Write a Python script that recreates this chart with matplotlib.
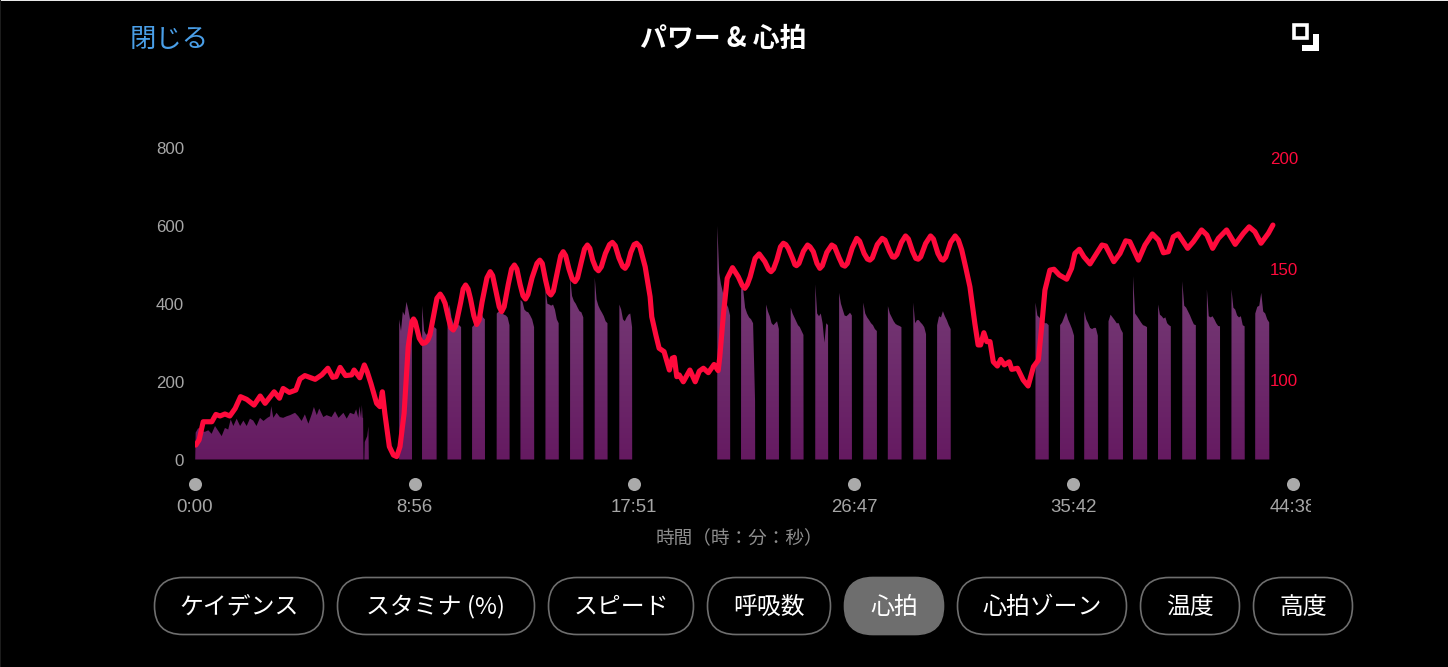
#!/usr/bin/python

import numpy as np
import matplotlib
matplotlib.use('Agg')
import matplotlib.pyplot as plt
from matplotlib.colors import LinearSegmentedColormap
from matplotlib.patches import FancyBboxPatch, Rectangle, Polygon
from matplotlib.transforms import Bbox, blended_transform_factory

JP = ['Noto Sans CJK JP', 'DejaVu Sans']
NUM = ['Liberation Sans', 'DejaVu Sans']

W, H = 1448, 667

time_ticks = [0, 536, 1071, 1607, 2142, 2678]
time_labels = ['0:00', '8:56', '17:51', '26:47', '35:42', '44:38']
power_ticks = [0, 200, 400, 600, 800]
bpm_ticks = [100, 150, 200]
buttons = ['ケイデンス', 'スタミナ (%)', 'スピード', '呼吸数', '心拍', '心拍ゾーン', '温度', '高度']

# heart rate (seconds, bpm)
hr_time = [2, 10, 20, 41, 51, 61, 73, 85, 98, 111, 126, 144, 159, 171, 193, 206, 215, 230, 246, 256,
           268, 293, 309, 324, 336, 344, 354, 367, 382, 388, 402, 413, 420, 429, 443, 451, 457, 463,
           474, 484, 492, 500, 510, 520, 529, 533, 537, 547, 555, 562, 568, 573, 582, 590, 598, 604,
           610, 618, 624, 630, 636, 648, 654, 660, 666, 672, 680, 687, 693, 700, 712, 720, 726, 734,
           742, 748, 754, 764, 772, 779, 785, 793, 800, 806, 812, 822, 834, 841, 847, 855, 862, 868,
           874, 884, 892, 898, 904, 912, 920, 927, 933, 942, 950, 957, 963, 970, 978, 984, 991, 1001,
           1011, 1018, 1025, 1034, 1043, 1049, 1055, 1063, 1071, 1077, 1085, 1098, 1110, 1114, 1124,
           1132, 1144, 1157, 1164, 1169, 1175, 1181, 1191, 1207, 1220, 1230, 1240, 1252, 1266, 1276,
           1280, 1289, 1298, 1311, 1325, 1335, 1341, 1347, 1354, 1366, 1376, 1390, 1399, 1405, 1411,
           1419, 1428, 1435, 1441, 1447, 1458, 1463, 1467, 1473, 1484, 1494, 1500, 1508, 1517, 1524,
           1530, 1541, 1553, 1560, 1571, 1579, 1585, 1591, 1603, 1614, 1621, 1632, 1640, 1646, 1652,
           1664, 1676, 1683, 1694, 1701, 1706, 1712, 1723, 1733, 1740, 1750, 1758, 1764, 1770, 1782,
           1794, 1801, 1812, 1820, 1825, 1831, 1843, 1854, 1862, 1870, 1880, 1890, 1902, 1910, 1916,
           1924, 1931, 1939, 1947, 1957, 1965, 1974, 1986, 1992, 2006, 2020, 2032, 2045, 2057, 2065,
           2073, 2085, 2095, 2108, 2126, 2138, 2146, 2157, 2168, 2183, 2199, 2212, 2221, 2241, 2256,
           2270, 2280, 2301, 2317, 2335, 2350, 2362, 2374, 2386, 2398, 2421, 2435, 2455, 2468, 2482,
           2496, 2516, 2537, 2557, 2571, 2585, 2600, 2618, 2629]
hr_bpm = [70.7, 73, 81.2, 81.2, 84.5, 83.8, 84.7, 83.8, 87.2, 92.5, 91.3, 88.7, 92.8, 89.5, 94.7, 91.8,
          96.2, 94.4, 95.5, 100.5, 102, 100.3, 102.3, 105.3, 101.2, 101.5, 105.7, 102, 102.3, 104.5,
          101, 106.8, 103.7, 98.5, 89.5, 88, 94.7, 85, 70, 66.2, 65.5, 70, 85, 115, 126.3, 127.5, 126.3,
          118.8, 116.5, 116.8, 118, 120.3, 129, 136.8, 138.7, 137, 134.5, 128, 123.5, 122.5, 124.5, 135,
          141, 142.8, 141, 136.5, 129, 125, 127, 135, 146, 148.8, 147, 140, 133, 130.8, 133, 143, 150,
          151.8, 150, 143, 138, 136.5, 138.5, 146, 152.5, 154, 152.5, 145, 139.5, 138.3, 140, 149, 156,
          157.8, 156, 150, 145.5, 144.3, 146, 153, 159, 160.8, 159.3, 154, 150.3, 149.2, 151, 157, 161,
          162, 160.5, 155, 151.2, 150.3, 152, 157.5, 161, 161.6, 160, 151, 137.5, 128.5, 120.3, 114.3,
          112.8, 104.5, 109.8, 110.2, 101.5, 102.3, 99.2, 104.5, 99.2, 104, 105.3, 103.3, 107, 104.2,
          110.5, 130, 145.8, 150.6, 146.5, 142.5, 141.3, 143, 146.5, 154.8, 156.8, 153.3, 149.8, 148.8,
          150, 154, 160, 161.6, 161, 159.3, 154.5, 152, 151.5, 152.5, 158, 160.8, 160, 157.8, 152.5,
          150.3, 151.5, 157.5, 160.8, 160, 155, 151.8, 151.3, 152.5, 159.5, 163.8, 162.5, 157, 154.5,
          154, 155, 161, 163.8, 163, 158, 155.5, 155.3, 156.5, 162, 164.9, 163.5, 158, 154.8, 154.4,
          155.5, 161.5, 164.9, 163.5, 157, 154.3, 154, 155.3, 162, 164.9, 163, 158.6, 150.5, 142, 125.5,
          115.8, 115.8, 121.3, 117.3, 117.3, 108.2, 106.3, 109.3, 106.8, 108.2, 104.8, 105.3, 100, 97.3,
          106, 109, 124, 140.5, 149.5, 149.9, 147.3, 145.4, 150.3, 157, 158.9, 155.5, 152.3, 157, 160.8,
          160.4, 153.3, 157, 162.7, 162.3, 154, 160.8, 165.8, 163, 157.3, 157.8, 164.5, 165.8, 159.3,
          162.3, 167.6, 165.3, 159.3, 163.8, 167.6, 161.1, 166.1, 169, 166.8, 161.6, 166.1, 169.8]

# warm up power, before the intervals
warmup_time = [1.6, 8, 16, 24, 32.5, 40.6, 48.8, 57, 65, 73, 81, 87, 93.5, 101.6, 110, 118, 126, 134, 142,
               150, 158.5, 167, 176.5, 183, 186, 191, 199, 207, 215, 223.6, 232, 244, 252, 260, 268,
               276.5, 284.6, 290, 297, 303, 313, 321, 333, 341.5, 350, 362, 370, 378, 388, 393, 398.4,
               401, 405, 407, 409, 410, 411, 413, 414, 420, 423, 424]
warmup_power = [69, 81, 73, 71, 75, 66, 86, 73, 60, 81, 77, 103, 86, 105, 86, 100, 86, 105, 100, 86, 107,
                99, 107, 111, 137, 107, 120, 109, 107, 111, 114, 120, 111, 99, 116, 92, 116, 135, 114,
                131, 109, 114, 109, 124, 107, 120, 105, 120, 116, 129, 107, 137, 107, 140, 107, 107, 0,
                0, 45, 60, 85, 0]

# one hard effort each
burst_start = [498, 554, 616, 676, 736, 794, 855, 915, 975, 1035,
               1274, 1332, 1393, 1453, 1513, 1571, 1630, 1690, 1752, 1810,
               2050, 2110, 2169, 2228, 2288, 2349, 2408, 2468, 2528, 2586]
burst_end = [529, 589, 649, 707, 767, 827, 887, 947, 1006, 1066,
             1305, 1366, 1424, 1484, 1544, 1602, 1663, 1723, 1783, 1843,
             2082, 2144, 2202, 2263, 2322, 2380, 2441, 2500, 2560, 2620]
burst_power = [
    [360, 330, 380, 370, 405, 385, 360, 340],
    [395, 330, 320, 325, 330, 335, 340, 335],
    [350, 398, 365, 350, 345, 345, 345, 340],
    [340, 345, 350, 355, 365, 378, 365, 360],
    [375, 380, 378, 375, 372, 370, 365, 345],
    [410, 405, 385, 380, 378, 370, 360, 340],
    [437, 400, 398, 395, 398, 385, 360, 350],
    [470, 420, 407, 400, 390, 381, 378, 365],
    [467, 411, 395, 385, 377, 368, 355, 350],
    [398, 385, 360, 355, 365, 372, 375, 340],
    [600, 480, 450, 430, 415, 400, 390, 370],
    [440, 438, 390, 375, 365, 360, 350, 150],
    [398, 380, 368, 350, 345, 350, 355, 335],
    [390, 375, 365, 355, 345, 340, 330, 320],
    [450, 375, 368, 375, 350, 300, 350, 345],
    [428, 400, 385, 370, 368, 372, 377, 370],
    [403, 375, 365, 358, 350, 345, 335, 330],
    [394, 375, 365, 355, 348, 345, 343, 340],
    [403, 350, 358, 358, 352, 347, 340, 322],
    [345, 368, 365, 381, 368, 358, 345, 335],
    [403, 370, 365, 360, 355, 350, 350, 345],
    [345, 352, 365, 378, 360, 348, 335, 318],
    [381, 360, 350, 338, 335, 338, 338, 318],
    [355, 372, 365, 358, 350, 350, 335, 325],
    [471, 375, 368, 360, 352, 345, 343, 340],
    [398, 372, 368, 362, 365, 350, 345, 342],
    [458, 395, 390, 380, 370, 358, 347, 345],
    [437, 368, 365, 368, 360, 350, 343, 342],
    [437, 390, 385, 370, 365, 368, 345, 342],
    [375, 392, 395, 428, 380, 375, 360, 352],
]


def fx(px):
    return px / W


def fy(py):
    return 1 - py / H


def main():
    fig = plt.figure(figsize=(W / 100, H / 100), dpi=100, facecolor='black')

    ax = fig.add_axes([fx(195), fy(459.5), 1098 / W, 311.5 / H], facecolor='black')

    # power as an area with a vertical gradient
    t = [0.5] + warmup_time
    p = [0] + warmup_power
    for start, end, vals in zip(burst_start, burst_end, burst_power):
        t += [start - 0.3] + list(np.linspace(start, end, len(vals))) + [end + 0.3]
        p += [0] + vals + [0]
    area = ax.fill_between(t, 0, p, facecolor='none', edgecolor='none')
    cmap = LinearSegmentedColormap.from_list('pw', ['#651a61', '#70306f', '#7a4079'])
    im = ax.imshow(np.linspace(0, 1, 256).reshape(-1, 1), extent=[0, 2678, 0, 600],
                   origin='lower', aspect='auto', cmap=cmap)
    im.set_clip_path(area.get_paths()[0], transform=ax.transData)

    ax.set_xlim(0, 2678)
    ax.set_ylim(0, 800)
    ax.set_xticks(time_ticks)
    ax.set_xticklabels(time_labels, family=NUM, fontsize=13.4, color='#a6a6a6')
    ax.set_yticks(power_ticks)
    ax.set_yticklabels(power_ticks, family=NUM, fontsize=12.2, color='#a6a6a6')
    ax.tick_params(axis='x', length=0, pad=28.5)
    ax.tick_params(axis='y', length=0, pad=8)
    for s in ax.spines.values():
        s.set_visible(False)

    # the last label runs off the chart view
    for lab in ax.get_xticklabels():
        lab.set_clip_on(True)
        lab.set_clip_box(Bbox([[0, 0], [1311, H]]))

    trans = blended_transform_factory(ax.transData, ax.transAxes)
    ax.scatter(time_ticks, [-0.0787] * len(time_ticks), s=88, color='#aaaaaa', linewidths=0,
               transform=trans, clip_on=False, zorder=5)

    ax2 = ax.twinx()
    ax2.patch.set_visible(False)
    ax2.set_ylim(64.2, 204.5)
    ax2.set_yticks(bpm_ticks)
    ax2.set_yticklabels(bpm_ticks, family=NUM, fontsize=12.2, color='#ff0a3c')
    ax2.tick_params(axis='y', length=0, pad=-16.8)
    for s in ax2.spines.values():
        s.set_visible(False)
    ax2.plot(hr_time, hr_bpm, color='#ff0a3c', lw=3.7, solid_joinstyle='round', solid_capstyle='round')

    # header, axis title and buttons
    fig.text(fx(130), fy(39), '閉じる', family=JP, fontsize=19, color='#4a9fe8', va='center')
    fig.text(fx(723.5), fy(39), 'パワー & 心拍', family=JP, fontsize=19.4, fontweight='bold',
             color='white', ha='center', va='center')
    fig.text(fx(739), fy(539), '時間（時：分：秒）', family=JP, fontsize=13.4, color='#8e8e8e',
             ha='center', va='center')

    ui = fig.add_axes([0, 0, 1, 1], facecolor='none')
    ui.set_xlim(0, W)
    ui.set_ylim(H, 0)
    ui.axis('off')

    ui.add_patch(Rectangle((0, 0), W, 1, color='#e8e8e8', lw=0))
    ui.add_patch(Rectangle((0, 0), 1, H, color='#1c1c1c', lw=0))

    ui.add_patch(Rectangle((1294, 24.5), 13, 13, facecolor='none', edgecolor='white', lw=2.6))
    ui.add_patch(Polygon([(1313.3, 34), (1319.3, 34), (1319.3, 50.7), (1302.3, 50.7), (1302.3, 45), (1313.3, 45)],
                         facecolor='white', lw=0))

    left = [154.5, 337.5, 548.5, 707.5, 844.5, 957.5, 1140.5, 1253.5]
    right = [323.5, 534.5, 693.5, 830.5, 943.5, 1126.5, 1239.5, 1352.5]
    for i, name in enumerate(buttons):
        on = name == '心拍'
        ui.add_patch(FancyBboxPatch((left[i], 577.5), right[i] - left[i], 57,
                                    boxstyle='round,pad=0,rounding_size=28.5',
                                    facecolor='#6e6e6e' if on else 'none',
                                    edgecolor='#6e6e6e', lw=1.2))
        ui.text((left[i] + right[i]) / 2, 607, name, family=JP, fontsize=17.2, color='white',
                ha='center', va='center')

    fig.savefig('out.png', dpi=100, facecolor='black')


if __name__ == '__main__':
    main()
